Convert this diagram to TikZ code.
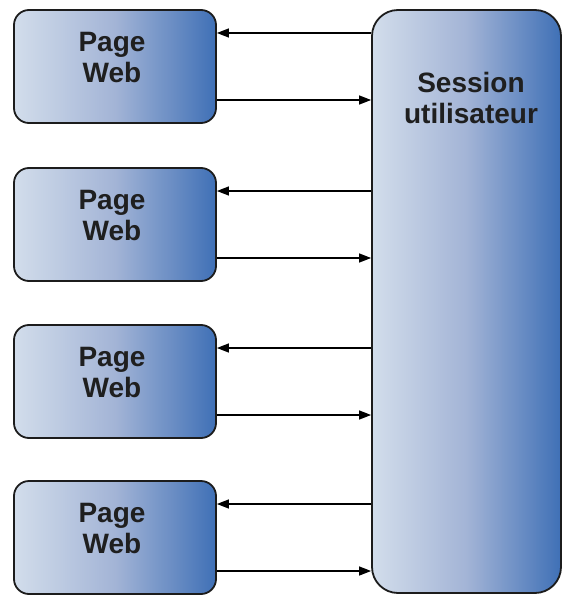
\documentclass[tikz,border=0pt]{standalone}
\usepackage{fontspec}
\setmainfont{Liberation Sans}
\usetikzlibrary{arrows.meta,calc}
\definecolor{cLight}{HTML}{D2DDEB}
\definecolor{cMid}{HTML}{A3B4D6}
\definecolor{cDark}{HTML}{3F70B6}
\definecolor{cEdge}{HTML}{1C1C1C}
\tikzset{
  box/.style={draw=cEdge, line width=1.8pt, left color=cLight, right color=cDark, middle color=cMid, inner sep=0pt},
  pagebox/.style={box, rounded corners=15pt, minimum width=202pt, minimum height=113pt},
  sessbox/.style={box, rounded corners=26pt, minimum width=189pt, minimum height=583pt},
  lbl/.style={font=\fontsize{28}{31}\selectfont\bfseries, align=center, text=black!88, inner sep=0pt},
  arr/.style={draw=black, line width=1.3pt, -{Triangle[length=12pt,width=9pt]}}
}
\begin{document}
\begin{tikzpicture}[x=1pt,y=-1pt]
\useasboundingbox (0,0) rectangle (566,596);
\node[sessbox] (s) at (466.5,301.5) {};
\node[lbl] (st) at (471,97.5) {Session\\utilisateur};
\foreach \i/\y in {1/66.5,2/224.5,3/381.5,4/537.5}{
  \node[pagebox] (p\i) at (115,\y) {};
  \node[lbl] (t\i) at ($(p\i.center)+(-3,-9)$) {Page\\Web};
  \path (p\i.east) ++(0,33.5pt) coordinate (up\i);
  \path (p\i.east) ++(0,-33.5pt) coordinate (dn\i);
  \draw[arr] (up\i -| s.west) -- (up\i);
  \draw[arr] (dn\i) -- (dn\i -| s.west);
}
\end{tikzpicture}
\end{document}
